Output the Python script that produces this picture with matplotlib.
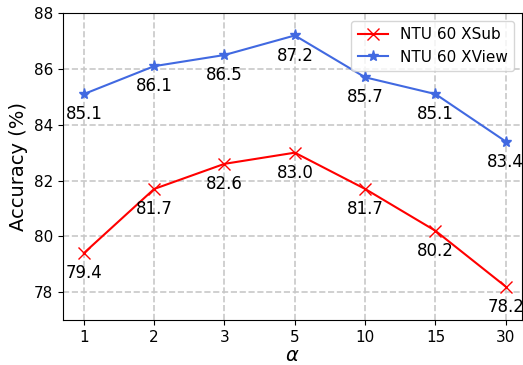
import matplotlib
matplotlib.use('Agg')
import matplotlib.pyplot as plt

# alpha values (categorical x axis)
alphas = ['1', '2', '3', '5', '10', '15', '30']
xsub = [79.4, 81.7, 82.6, 83.0, 81.7, 80.2, 78.2]
xview = [85.1, 86.1, 86.5, 87.2, 85.7, 85.1, 83.4]

fig = plt.figure(figsize=(5.23, 3.65), dpi=100)
ax = fig.add_axes([0.120, 0.123, 0.878, 0.841])

x = range(len(alphas))
ax.plot(x, xsub, color='red', marker='x', markersize=8, linewidth=1.5, label='NTU 60 XSub')
ax.plot(x, xview, color='royalblue', marker='*', markersize=8, linewidth=1.5, label='NTU 60 XView')

# value labels under each point
for xi, v in zip(x, xsub):
    ax.annotate(f'{v:.1f}', xy=(xi, v), xytext=(0, -8), textcoords='offset points',
                ha='center', va='top', fontsize=12)
for xi, v in zip(x, xview):
    ax.annotate(f'{v:.1f}', xy=(xi, v), xytext=(0, -8), textcoords='offset points',
                ha='center', va='top', fontsize=12)

ax.set_xticks(list(x))
ax.set_xticklabels(alphas, fontsize=11)
ax.set_yticks([78, 80, 82, 84, 86, 88])
ax.tick_params(axis='y', labelsize=11)
ax.set_xlim(-0.3, 6.23)
ax.set_ylim(77, 88)
ax.set_xlabel(r'$\alpha$', fontsize=14, labelpad=1)
ax.set_ylabel('Accuracy (%)', fontsize=14)
ax.grid(True, linestyle='--', color='#c8c8c8', linewidth=1.2)
ax.legend(loc='upper right', fontsize=11)

plt.savefig('out.png', dpi=100)
plt.close(fig)
